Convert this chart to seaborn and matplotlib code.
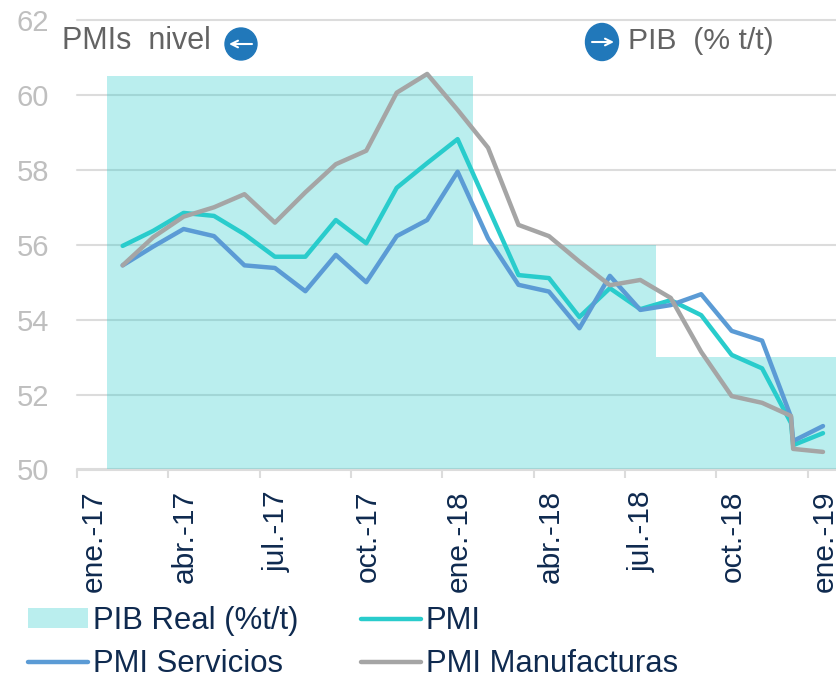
import pandas as pd
import seaborn as sns
import matplotlib.pyplot as plt
from matplotlib.lines import Line2D
from matplotlib.patches import Ellipse, Patch
from matplotlib.transforms import IdentityTransform

W, H = 837, 679

# months counted from ene-17, the last month has two readings very close together
months = [1.5, 2.5, 3.5, 4.5, 5.5, 6.5, 7.5, 8.5, 9.5, 10.5, 11.5, 12.5, 13.5, 14.5,
          15.5, 16.5, 17.5, 18.5, 19.5, 20.5, 21.5, 22.5, 23.45, 23.52, 24.5]
pmi = [55.97, 56.37, 56.85, 56.77, 56.28, 55.68, 55.68, 56.66, 56.04, 57.52, 58.18, 58.82, 57.0,
       55.19, 55.11, 54.07, 54.84, 54.28, 54.52, 54.12, 53.06, 52.7, 51.24, 50.65, 50.97]
servicios = [55.45, 55.95, 56.42, 56.23, 55.45, 55.38, 54.76, 55.73, 55.0, 56.23, 56.66, 57.95, 56.17,
             54.93, 54.75, 53.77, 55.17, 54.26, 54.39, 54.68, 53.7, 53.44, 51.4, 50.76, 51.16]
manufacturas = [55.45, 56.2, 56.75, 57.0, 57.35, 56.59, 57.4, 58.15, 58.51, 60.06, 60.56, 59.6, 58.59,
                56.53, 56.23, 55.55, 54.92, 55.06, 54.58, 53.14, 51.96, 51.78, 51.43, 50.55, 50.47]

pib_start = [1, 13, 19]
pib_months = [12, 6, 6]
pib_level = [60.5, 56, 53]

tick_pos = [0, 3, 6, 9, 12, 15, 18, 21, 24]
tick_labels = ['ene.-17', 'abr.-17', 'jul.-17', 'oct.-17', 'ene.-18', 'abr.-18', 'jul.-18', 'oct.-18', 'ene.-19']
y_ticks = [50, 52, 54, 56, 58, 60, 62]

TEAL = '#29CCCC'
BLUE = '#5B9BD5'
GREY = '#A5A5A5'
NAVY = '#0F2A4F'
TXT = '#636363'
CIRC = '#2178BA'

sns.set_theme(style='white')
plt.rcParams['font.family'] = ['Liberation Sans', 'DejaVu Sans']

df = pd.DataFrame({'mes': months, 'PMI': pmi, 'PMI Servicios': servicios, 'PMI Manufacturas': manufacturas})

fig = plt.figure(figsize=(W / 100, H / 100), dpi=100)
ax = fig.add_axes([77 / W, 1 - 469.5 / H, 760 / W, 449.5 / H])

ax.bar(pib_start, [v - 50 for v in pib_level], width=pib_months, bottom=50, align='edge',
       color=TEAL, alpha=0.32, linewidth=0, zorder=2)
sns.lineplot(data=df, x='mes', y='PMI', color=TEAL, lw=3.2, ax=ax, zorder=3, sort=False)
sns.lineplot(data=df, x='mes', y='PMI Servicios', color=BLUE, lw=3.2, ax=ax, zorder=4, sort=False)
sns.lineplot(data=df, x='mes', y='PMI Manufacturas', color=GREY, lw=3.2, ax=ax, zorder=5, sort=False)

ax.set_xlim(0, 24.96)
ax.set_ylim(50, 62)
ax.set_xlabel('')
ax.set_ylabel('')
ax.set_yticks(y_ticks)
ax.tick_params(axis='y', length=0, pad=20, labelsize=21, labelcolor='#BFBFBF')
ax.yaxis.grid(True, color='#DCDCDC', lw=1.5, zorder=1, clip_on=False)
ax.set_axisbelow(True)

# ticks sit at the month start, labels are shifted to the right of them
ax.set_xticks(tick_pos)
ax.set_xticklabels([])
ax.tick_params(axis='x', which='major', length=6, width=1.5, color='#DCDCDC', bottom=True)
ax.set_xticks([p + 0.55 for p in tick_pos], labels=tick_labels, minor=True, rotation=90)
ax.tick_params(axis='x', which='minor', length=0, pad=15, labelsize=21.5, labelcolor=NAVY)
for lab in ax.get_xminorticklabels():
    lab.set_ha('center')

sns.despine(ax=ax, left=True, top=True, right=True)
ax.spines['bottom'].set_color('#DCDCDC')
ax.spines['bottom'].set_linewidth(1.5)
ax.spines['bottom'].set_zorder(6)

# header labels with arrow badges
fig.text(62 / W, 1 - 41 / H, 'PMIs  nivel', fontsize=22, color=TXT, ha='left', va='center')
fig.text(628 / W, 1 - 41 / H, 'PIB  (% t/t)', fontsize=21.7, color=TXT, ha='left', va='center')
pix = IdentityTransform()
fig.add_artist(Ellipse((241, H - 44), 32, 32, color=CIRC, transform=pix))
fig.add_artist(Ellipse((602, H - 42), 33, 37, color=CIRC, transform=pix))
fig.add_artist(plt.annotate('', xy=(229, H - 44), xytext=(252, H - 44), xycoords=pix, textcoords=pix,
                            arrowprops=dict(arrowstyle='->', color='white', lw=1.5, shrinkA=0, shrinkB=0)))
fig.add_artist(plt.annotate('', xy=(614, H - 42), xytext=(592, H - 42), xycoords=pix, textcoords=pix,
                            arrowprops=dict(arrowstyle='->', color='white', lw=1.5, shrinkA=0, shrinkB=0)))

handles = [Patch(color=TEAL, alpha=0.32, lw=0), Line2D([], [], color=BLUE, lw=3.2),
           Line2D([], [], color=TEAL, lw=3.2), Line2D([], [], color=GREY, lw=3.2)]
names = ['PIB Real (%t/t)', 'PMI Servicios', 'PMI', 'PMI Manufacturas']
fig.legend(handles, names, ncol=2, frameon=False, fontsize=22.4, labelcolor=NAVY, loc='lower left',
           bbox_to_anchor=(0 / W, -28 / H), handlelength=1.93, handleheight=0.58, handletextpad=0.16,
           columnspacing=2.0, labelspacing=0.42)

fig.savefig('out.png', dpi=100)
